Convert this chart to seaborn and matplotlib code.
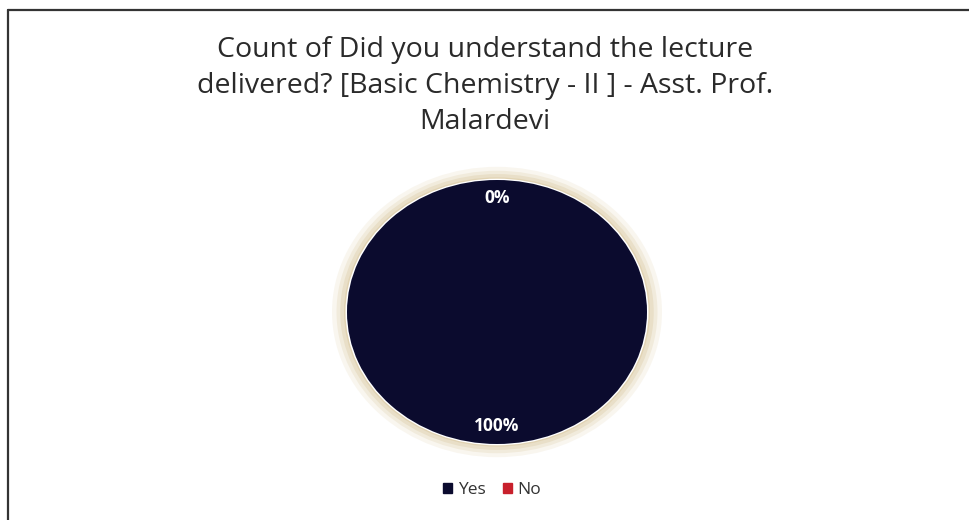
import matplotlib
matplotlib.use("Agg")
import matplotlib.pyplot as plt
import seaborn as sns
from matplotlib.patches import Ellipse, Rectangle
from matplotlib.lines import Line2D

sns.set_theme(style="white")
plt.rcParams['font.family'] = ['Open Sans', 'DejaVu Sans']

categories = ["Yes", "No"]
counts = [100, 0]
colors = ["#0b0b2e", "#c8202c"]
title = "Count of Did you understand the lecture\ndelivered? [Basic Chemistry - II ] - Asst. Prof.\nMalardevi"

W, H = 970, 520
fig = plt.figure(figsize=(W / 100, H / 100), dpi=100)
fig.patch.set_facecolor("white")

# frame
fig.add_artist(Line2D([8 / W, 8 / W], [0, 1 - 10 / H], color="#333333", lw=1.6))
fig.add_artist(Line2D([8 / W, 1], [1 - 10 / H, 1 - 10 / H], color="#333333", lw=1.6))

fig.text(0.5, 1 - 86 / H, title, ha="center", va="center", fontsize=20.5,
         color="#2a2a2a", linespacing=1.4)

cx, cy, rx, ry = 497, 312, 150, 132
ax = fig.add_axes([(cx - rx) / W, (H - cy - ry) / H, 2 * rx / W, 2 * ry / H])
# soft glow
for k, a in zip([1.10, 1.07, 1.045, 1.02], [0.15, 0.22, 0.30, 0.45]):
    ax.add_patch(Ellipse((0, 0), 2 * k, 2 * k, color="#d8c59a", alpha=a, lw=0, zorder=0))
ax.add_patch(Ellipse((0, 0), 2.02, 2.02, color="white", lw=0, zorder=1))
wedges, texts, autotexts = ax.pie(counts, colors=colors, startangle=90, counterclock=False,
                                  autopct="%1.0f%%", pctdistance=0.86,
                                  wedgeprops=dict(linewidth=0),
                                  textprops=dict(color="white", fontsize=12.5, fontweight="bold"))
for w in wedges:
    w.set_zorder(2)
ax.set_aspect("auto")
ax.set_xlim(-1.15, 1.15)
ax.set_ylim(-1.15, 1.15)
ax.set_position([(cx - rx * 1.15) / W, (H - cy - ry * 1.15) / H, 2 * rx * 1.15 / W, 2 * ry * 1.15 / H])
ax.axis("off")

handles = [Rectangle((0, 0), 1, 1, color=c) for c in colors]
fig.legend(handles, categories, loc="center", bbox_to_anchor=(492 / W, 1 - 490 / H), ncol=2,
           frameon=False, fontsize=12.5, handlelength=0.55, handleheight=0.55, handletextpad=0.3,
           columnspacing=1.0, labelcolor="#333333")

fig.savefig("out.png", dpi=100, facecolor="white")
